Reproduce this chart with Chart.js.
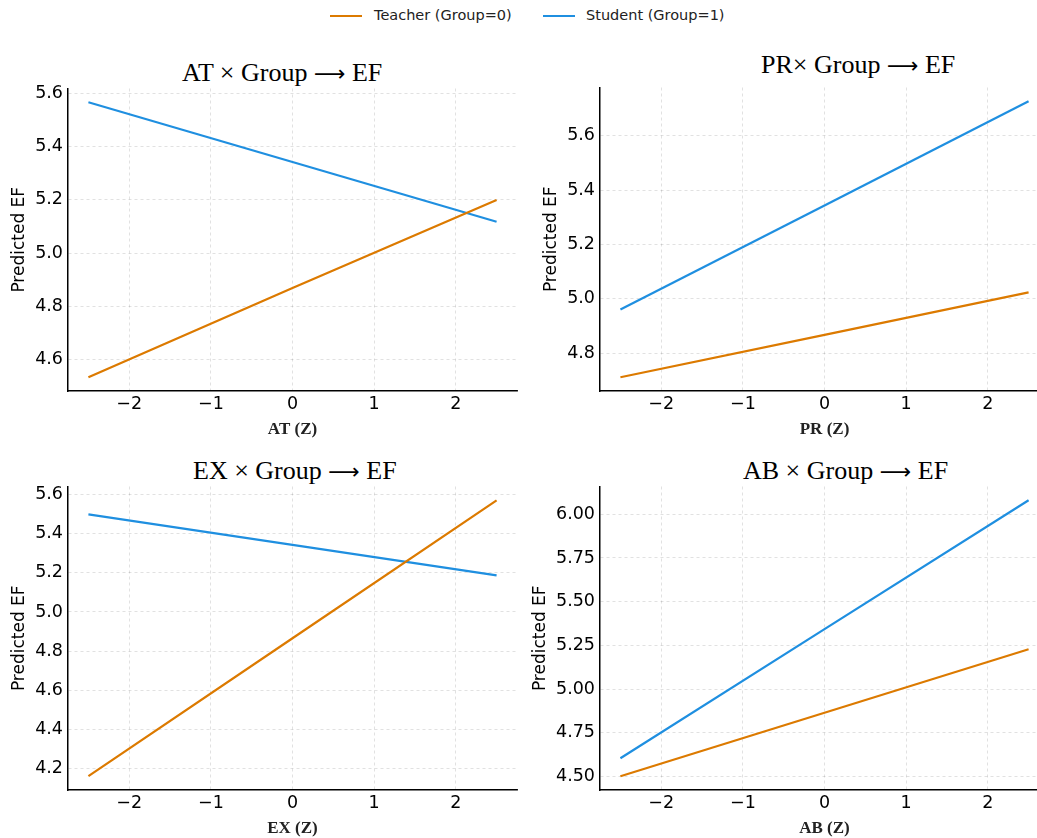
<!DOCTYPE html>
<html>
<head>
<meta charset="utf-8">
<script src="https://cdn.jsdelivr.net/npm/chart.js@4/dist/chart.umd.min.js"></script>
<style>
  html, body { margin: 0; padding: 0; width: 1037px; height: 838px; overflow: hidden; background: #fff; }
  .panel { position: absolute; }
  .ttl { position: absolute; font-family: "Liberation Serif", "Times New Roman", serif; font-size: 26px; line-height: 1; color: #000; white-space: nowrap; }
  .arr { font-family: "DejaVu Sans", sans-serif; font-size: 22px; }
  .lg-line { position: absolute; height: 2px; top: 15px; }
  .lg-text { position: absolute; top: 6px; font-family: "DejaVu Sans", sans-serif; font-size: 14.5px; line-height: 18px; color: #222; white-space: nowrap; }
</style>
</head>
<body>

<div class="lg-line" style="left:330px;width:32px;background:#dc7a00"></div>
<div class="lg-text" style="left:374px">Teacher (Group=0)</div>
<div class="lg-line" style="left:543px;width:32px;background:#1f8fe0"></div>
<div class="lg-text" style="left:586px">Student (Group=1)</div>

<div class="ttl" style="left:182px;top:60px">AT × Group <span class="arr">⟶</span> EF</div>
<div class="ttl" style="left:761px;top:52px">PR× Group <span class="arr">⟶</span> EF</div>
<div class="ttl" style="left:193px;top:458px">EX × Group <span class="arr">⟶</span> EF</div>
<div class="ttl" style="left:743px;top:458px">AB × Group <span class="arr">⟶</span> EF</div>

<canvas id="c1" class="panel" style="left:0px;top:73px" width="525" height="373"></canvas>
<canvas id="c2" class="panel" style="left:520px;top:72px" width="537" height="374"></canvas>
<canvas id="c3" class="panel" style="left:0px;top:471px" width="525" height="374"></canvas>
<canvas id="c4" class="panel" style="left:520px;top:471px" width="537" height="374"></canvas>

<script>
// standardized predictor values (Z)
const zValues = [-2.5, 0, 2.5];

// predicted EF, teacher (Group=0) and student (Group=1)
const atTeacher = [4.532, 4.868, 5.200];
const atStudent = [5.568, 5.343, 5.118];
const prTeacher = [4.712, 4.868, 5.024];
const prStudent = [4.961, 5.344, 5.727];
const exTeacher = [4.163, 4.866, 5.569];
const exStudent = [5.497, 5.342, 5.186];
const abTeacher = [4.502, 4.865, 5.228];
const abStudent = [4.605, 5.343, 6.080];

const legendLabels = ['Teacher (Group=0)', 'Student (Group=1)'];
const xTickValues = [-2, -1, 0, 1, 2];

const ORANGE = '#dc7a00';
const BLUE = '#1f8fe0';

function points(ys) {
    return zValues.map((x, i) => ({x: x, y: ys[i]}));
}

// yWidth: room left of the axis, yTitlePad: distance of the y title from the canvas edge
function makePanel(id, xLabel, teacher, student, yStep, yDecimals, yWidth, yTitlePad) {
    var all = teacher.concat(student);
    var lo = Math.min.apply(null, all), hi = Math.max.apply(null, all);
    var pad = (hi - lo) * 0.05;
    var xPad = (zValues[zValues.length - 1] - zValues[0]) * 0.05;

    var ctx = document.getElementById(id).getContext('2d');
    return new Chart(ctx, {
        type: 'line',
        data: {
            datasets: [{
                label: legendLabels[0],
                data: points(teacher),
                borderColor: ORANGE,
                backgroundColor: ORANGE,
                borderWidth: 2.2,
                pointRadius: 0,
                tension: 0
            }, {
                label: legendLabels[1],
                data: points(student),
                borderColor: BLUE,
                backgroundColor: BLUE,
                borderWidth: 2.2,
                pointRadius: 0,
                tension: 0
            }]
        },
        options: {
            responsive: false,
            animation: false,
            events: [],
            layout: { padding: { top: 10, right: 8, left: 0, bottom: 0 } },
            plugins: { legend: { display: false }, title: { display: false }, tooltip: { enabled: false } },
            scales: {
                x: {
                    type: 'linear',
                    min: zValues[0] - xPad,
                    max: zValues[zValues.length - 1] + xPad,
                    afterFit: function (s) { s.height = 55; },
                    afterBuildTicks: function (s) { s.ticks = xTickValues.map(v => ({value: v})); },
                    ticks: {
                        padding: 3,
                        color: '#000',
                        font: { family: 'DejaVu Sans', size: 17.5 },
                        callback: function (v) { return v < 0 ? '\u2212' + Math.abs(v) : String(v); }
                    },
                    grid: { color: 'rgba(0,0,0,0.15)', lineWidth: 0.8, drawTicks: false },
                    border: { color: '#000', width: 1.5, dash: [3, 3] },
                    title: {
                        display: true,
                        text: xLabel,
                        color: '#222',
                        font: { family: 'Liberation Serif', size: 17, weight: 'bold' },
                        padding: { top: 4, bottom: 6 }
                    }
                },
                y: {
                    min: lo - pad,
                    max: hi + pad,
                    afterFit: function (s) { s.width = yWidth; },
                    ticks: {
                        stepSize: yStep,
                        includeBounds: false,
                        padding: 5,
                        color: '#000',
                        font: { family: 'DejaVu Sans', size: 17.5 },
                        callback: function (v) { return Number(v).toFixed(yDecimals); }
                    },
                    grid: { color: 'rgba(0,0,0,0.15)', lineWidth: 0.8, drawTicks: false },
                    border: { color: '#000', width: 1.5, dash: [3, 3] },
                    title: {
                        display: true,
                        text: 'Predicted EF',
                        color: '#000',
                        font: { family: 'DejaVu Sans', size: 17 },
                        padding: { top: yTitlePad, bottom: 0 }
                    }
                }
            }
        }
    });
}

makePanel('c1', 'AT (Z)', atTeacher, atStudent, 0.2, 1, 68, 9);
makePanel('c2', 'PR (Z)', prTeacher, prStudent, 0.2, 1, 80, 21);
makePanel('c3', 'EX (Z)', exTeacher, exStudent, 0.2, 1, 68, 9);
makePanel('c4', 'AB (Z)', abTeacher, abStudent, 0.25, 2, 80, 10);
</script>
</body>
</html>
